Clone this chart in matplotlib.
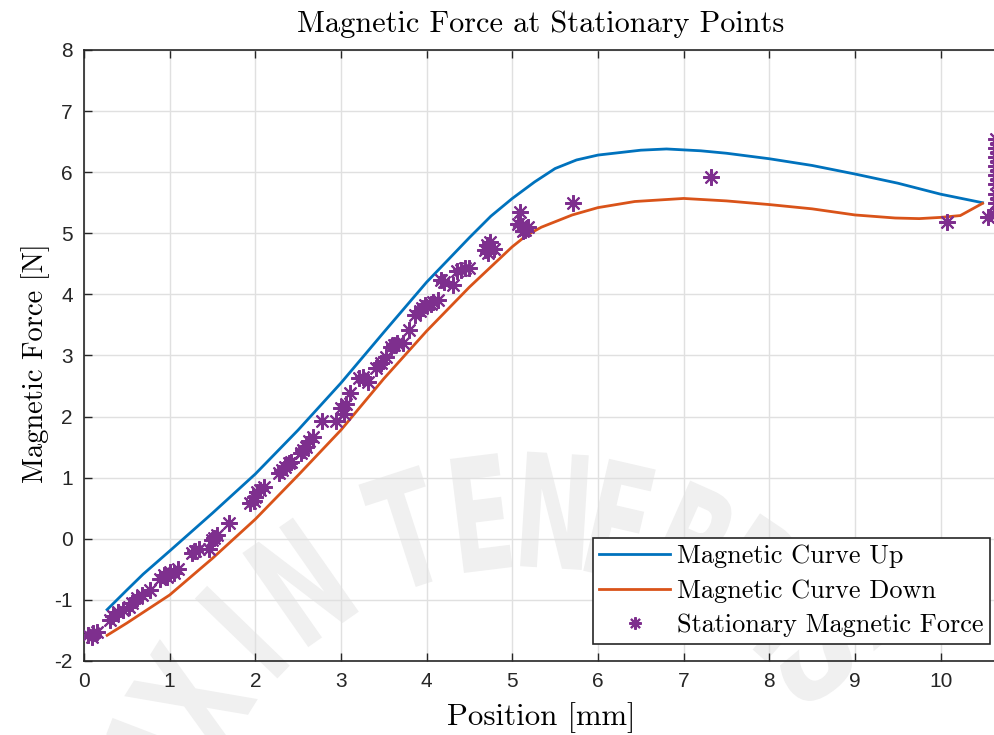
import numpy as np
import matplotlib
matplotlib.use("Agg")
import matplotlib.pyplot as plt
from matplotlib.textpath import TextPath
from matplotlib.patches import PathPatch
from matplotlib.font_manager import FontProperties
from matplotlib.transforms import Affine2D

plt.rcParams['axes.unicode_minus'] = False

# magnetic force curves (position in mm, force in N)
up_x = [0.27, 0.5, 0.69, 1.0, 1.5, 2.0, 2.5, 3.0, 3.5, 4.0, 4.5, 4.75, 5.0, 5.26, 5.5,
        5.75, 6.0, 6.5, 6.8, 7.2, 7.5, 8.0, 8.5, 9.0, 9.5, 10.0, 10.49]
up_y = [-1.16, -0.84, -0.58, -0.2, 0.42, 1.06, 1.78, 2.55, 3.38, 4.2, 4.93, 5.28, 5.57,
        5.84, 6.06, 6.2, 6.28, 6.36, 6.38, 6.35, 6.31, 6.22, 6.11, 5.97, 5.82, 5.64, 5.50]

dn_x = [0.27, 0.5, 1.0, 1.5, 2.0, 2.5, 3.0, 3.5, 4.0, 4.5, 5.0, 5.17, 5.34, 5.7, 6.0,
        6.43, 7.0, 7.5, 8.0, 8.5, 9.0, 9.47, 9.75, 10.0, 10.23, 10.49]
dn_y = [-1.58, -1.38, -0.92, -0.32, 0.32, 1.04, 1.78, 2.62, 3.40, 4.12, 4.78, 4.97,
        5.10, 5.30, 5.42, 5.52, 5.57, 5.53, 5.47, 5.40, 5.30, 5.25, 5.24, 5.26, 5.29, 5.49]

# stationary points
st_x = [0.05, 0.09, 0.10, 0.15, 0.30, 0.34, 0.40, 0.46, 0.52, 0.56, 0.62, 0.68, 0.77,
        0.89, 0.93, 0.97, 1.0, 1.05, 1.10, 1.26, 1.30, 1.34, 1.46, 1.50, 1.52, 1.55,
        1.69, 1.94, 1.98, 2.0, 2.02, 2.06, 2.10, 2.28, 2.31, 2.35, 2.39, 2.42, 2.53,
        2.56, 2.59, 2.63, 2.67, 2.78, 2.94, 3.0, 3.04, 3.06, 3.11, 3.21, 3.26, 3.31,
        3.41, 3.47, 3.52, 3.58, 3.62, 3.66, 3.72, 3.80, 3.86, 3.92, 3.95, 3.98, 4.05,
        4.08, 4.13, 4.17, 4.20, 4.31, 4.36, 4.40, 4.45, 4.50, 4.68, 4.70, 4.72, 4.74,
        4.79, 5.07, 5.09, 5.10, 5.13, 5.15, 5.18, 5.71, 7.32, 10.08, 10.55, 10.63,
        10.66, 10.65, 10.65, 10.65, 10.65, 10.65, 10.65, 10.65, 10.65]
st_y = [-1.57, -1.60, -1.55, -1.52, -1.33, -1.27, -1.20, -1.17, -1.11, -1.05, -0.97,
        -0.92, -0.84, -0.66, -0.60, -0.62, -0.55, -0.56, -0.50, -0.24, -0.20, -0.16,
        -0.16, -0.02, 0.02, 0.06, 0.26, 0.58, 0.62, 0.69, 0.76, 0.80, 0.85, 1.07, 1.12,
        1.18, 1.24, 1.26, 1.40, 1.45, 1.51, 1.60, 1.67, 1.92, 1.92, 2.14, 2.05, 2.20,
        2.38, 2.63, 2.65, 2.57, 2.79, 2.88, 2.98, 3.14, 3.17, 3.20, 3.20, 3.42, 3.66,
        3.73, 3.77, 3.82, 3.85, 3.88, 3.91, 4.24, 4.20, 4.15, 4.38, 4.40, 4.43, 4.43,
        4.72, 4.81, 4.67, 4.86, 4.75, 5.16, 5.35, 5.12, 5.03, 5.06, 5.11, 5.50, 5.92,
        5.19, 5.27, 5.30, 5.33, 5.50, 5.65, 5.80, 5.95, 6.10, 6.25, 6.40, 6.55]

fig = plt.figure(figsize=(9.95, 7.35), dpi=100)
ax = fig.add_axes([0.0844, 0.1007, 0.9186, 0.8313])
ax.set_facecolor('none')

# faint seal lettering behind the axes (narrow letters along an arc)
wm = "LUXINTENEBRIS"
wm_ang = [170, 159, 148, 136, 125, 108, 97, 86.5, 77, 66, 56, 48, 40]
cx, cy, r = 530, 910, 400
fp = FontProperties(family='DejaVu Sans', weight='bold')
for ch, a in zip(wm, wm_ang):
    tp = TextPath((0, 0), ch, size=1, prop=fp)
    bb = tp.get_extents()
    px = cx + r * np.cos(np.radians(a))
    py = cy - r * np.sin(np.radians(a))
    s = 1.15 / 0.73
    tr = (Affine2D().translate(-(bb.x0 + bb.x1) / 2, -(bb.y0 + bb.y1) / 2)
          .scale(0.6 * s, s).rotate_deg(a - 90).translate(px / 100, (735 - py) / 100)
          + fig.dpi_scale_trans)
    fig.add_artist(PathPatch(tp, transform=tr, fc='#f0f0f0', ec='none', zorder=-5))

ax.plot(up_x, up_y, color='#0072BD', lw=2, label='Magnetic Curve Up', zorder=3)
ax.plot(dn_x, dn_y, color='#D95319', lw=2, label='Magnetic Curve Down', zorder=3)
ax.plot(st_x, st_y, ls='none', marker=(8, 2, 0), ms=12, mew=1.5, color='#7E2F8E',
        label='Stationary Magnetic Force', zorder=4)

ax.set_xlim(0, 10.67)
ax.set_ylim(-2, 8)
ax.set_xticks(range(0, 11))
ax.set_yticks(range(-2, 9))
ax.grid(True, color='#e0e0e0', lw=1)
ax.set_axisbelow(True)
ax.tick_params(direction='in', top=True, right=False, length=6, width=1,
               labelsize=15, colors='#262626', pad=8)
for lab in ax.get_xticklabels() + ax.get_yticklabels():
    lab.set_fontfamily('Liberation Sans')
for s in ax.spines.values():
    s.set_color('#262626')
    s.set_linewidth(1.2)
ax.spines['right'].set_visible(False)

ax.set_title('Magnetic Force at Stationary Points', fontfamily='cmr10', fontsize=21.8,
             pad=13)
ax.set_xlabel('Position [mm]', fontfamily='cmr10', fontsize=22.2, labelpad=8)
ax.set_ylabel('Magnetic Force [N]', fontfamily='cmr10', fontsize=20.5)
ax.yaxis.set_label_coords(-0.037, 0.488)

leg = ax.legend(loc='lower right', bbox_to_anchor=(0.991, 0.0278), borderaxespad=0,
                prop={'family': 'cmr10', 'size': 18.9}, fancybox=False,
                edgecolor='#262626', framealpha=1, handlelength=2.7,
                borderpad=0.25, labelspacing=0.41, handletextpad=0.25, markerscale=0.75)
leg.get_frame().set_linewidth(1.2)

fig.savefig('out.png', dpi=100)
